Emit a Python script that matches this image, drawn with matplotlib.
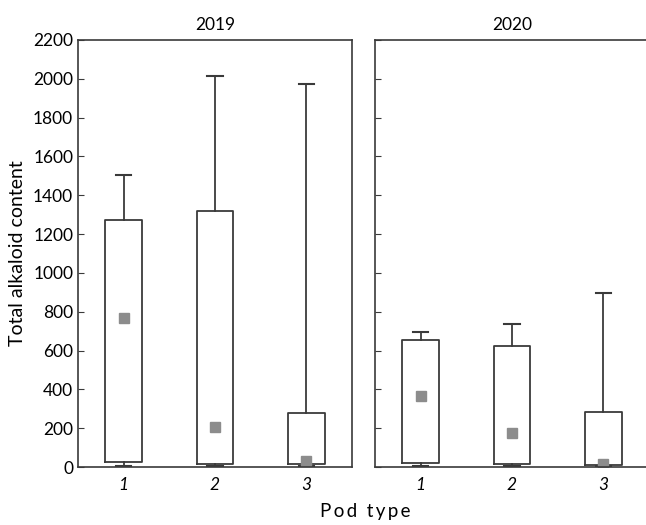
import matplotlib
matplotlib.use("Agg")
import matplotlib.pyplot as plt

plt.rcParams['font.family'] = ['Lato', 'DejaVu Sans']

years = ["2019", "2020"]
pod_types = ["1", "2", "3"]

# per year: lower whisker, box bottom, box top, upper whisker, mean
whis_lo = {"2019": [7, 7, 7], "2020": [3, 3, 3]}
box_lo = {"2019": [27, 17, 14], "2020": [19, 14, 9]}
box_hi = {"2019": [1275, 1320, 280], "2020": [652, 624, 283]}
whis_hi = {"2019": [1507, 2015, 1975], "2020": [695, 738, 897]}
means = {"2019": [770, 204, 29], "2020": [364, 173, 14]}

fig = plt.figure(figsize=(6.46, 5.25), dpi=100)
W, H = 646, 525
lefts = [78, 375]
rights = [352, 649]
top, bottom = 40, 467

line_col = "#3a3a3a"
for i, yr in enumerate(years):
    ax = fig.add_axes([lefts[i] / W, 1 - bottom / H,
                       (rights[i] - lefts[i]) / W, (bottom - top) / H])
    stats = []
    for k in range(3):
        stats.append({
            "whislo": whis_lo[yr][k], "q1": box_lo[yr][k], "med": box_lo[yr][k],
            "q3": box_hi[yr][k], "whishi": whis_hi[yr][k], "mean": means[yr][k],
            "fliers": [],
        })
    ax.bxp(stats, positions=[1, 2, 3], widths=0.4, showmeans=True,
           showfliers=False, capwidths=0.17,
           boxprops=dict(color=line_col, linewidth=1.3),
           whiskerprops=dict(color=line_col, linewidth=1.3),
           capprops=dict(color=line_col, linewidth=1.5),
           medianprops=dict(visible=False),
           meanprops=dict(marker="s", markersize=7, markerfacecolor="#8c8c8c",
                          markeredgecolor="#8c8c8c"))
    ax.set_xlim(0.5, 3.5)
    ax.set_ylim(0, 2200)
    ax.set_yticks(range(0, 2201, 200))
    ax.set_xticks([1, 2, 3])
    ax.set_xticklabels(pod_types, fontstyle="italic", fontsize=12.5)
    ax.tick_params(axis="x", length=0, pad=7)
    ax.tick_params(axis="y", direction="in", length=4, labelsize=12.5, color=line_col)
    for sp in ax.spines.values():
        sp.set_color(line_col)
        sp.set_linewidth(1.2)
    ax.set_title(yr, fontsize=12.5, pad=7)
    if i == 0:
        ax.set_ylabel("Total alkaloid content", fontsize=14, labelpad=5)
    else:
        ax.set_yticklabels([])

fig.text(365 / W, 1 - 511 / H, "P\u2009o\u2009d  t\u2009y\u2009p\u2009e", ha="center",
         va="center", fontsize=13.5)

fig.savefig("out.png", dpi=100)
